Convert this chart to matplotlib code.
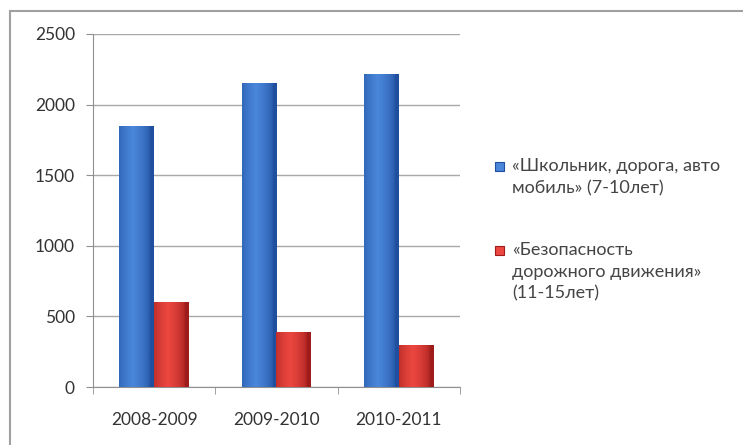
import numpy as np
import matplotlib.pyplot as plt
from matplotlib.patches import Rectangle
from matplotlib.colors import to_rgb

plt.rcParams['font.family'] = ['Lato', 'DejaVu Sans']

# %% data
years = ["2008-2009", "2009-2010", "2010-2011"]
school = [1850, 2150, 2220]
safety = [600, 390, 300]
labels = ["«Школьник, дорога, авто\nмобиль» (7-10лет)",
          "«Безопасность\nдорожного движения»\n(11-15лет)"]

blue_dark, blue_light = "#1f4f9e", "#4a86da"
red_dark, red_light = "#9e1c1a", "#ec4740"

# %% figure
fig = plt.figure(figsize=(7.43, 4.45), dpi=100)
ax = fig.add_axes([0.1252, 0.1303, 0.4938, 0.7933])

x = np.arange(len(years))
w = 0.285
b1 = ax.bar(x - w / 2, school, w, color=blue_light, zorder=3)
b2 = ax.bar(x + w / 2, safety, w, color=red_light, zorder=3)


def shade(bars, dark, light):
    # horizontal gradient, darker at the edges, clipped to each bar
    t = np.linspace(0, 1, 64)
    prof = np.clip(1 - np.abs(t - 0.4) * 2.0, 0, 1) ** 0.5
    c0 = np.array(to_rgb(dark))
    c1 = np.array(to_rgb(light))
    img = (c0[None, :] + (c1 - c0)[None, :] * prof[:, None])[None, :, :]
    for p in bars:
        x0, y0 = p.get_x(), p.get_y()
        im = ax.imshow(img, extent=[x0, x0 + p.get_width(), y0, y0 + p.get_height()],
                       aspect="auto", zorder=4, interpolation="bilinear")
        im.set_clip_path(p)


shade(b1, blue_dark, blue_light)
shade(b2, red_dark, red_light)

ax.set_xlim(-0.5, 2.5)
ax.set_ylim(0, 2500)
ax.set_yticks(np.arange(0, 2501, 500))
ax.set_xticks(x)
ax.set_xticklabels(years)
ax.set_xticks([-0.5, 0.5, 1.5, 2.5], minor=True)
ax.tick_params(axis="x", which="major", length=0, pad=18, labelsize=12.5, labelcolor="#333333")
ax.tick_params(axis="x", which="minor", length=5, color="#909090")
ax.tick_params(axis="y", length=5, color="#909090", pad=8, labelsize=12.5, labelcolor="#333333")
ax.yaxis.grid(True, color="#a8a8a8", lw=1, zorder=0)
for s in ["top", "right"]:
    ax.spines[s].set_visible(False)
ax.spines["left"].set_color("#909090")
ax.spines["bottom"].set_color("#909090")

# legend: squares + text, placed in figure pixels
colors = [(blue_light, blue_dark), (red_light, red_dark)]
tops = [158, 242]
for (fc, ec), lab, top in zip(colors, labels, tops):
    fig.patches.append(Rectangle((495 / 743, 1 - (top + 13) / 445), 9 / 743, 9 / 445,
                                 transform=fig.transFigure, facecolor=fc, edgecolor=ec, lw=0.8))
    fig.text(512 / 743, 1 - top / 445, lab, ha="left", va="top", fontsize=13,
             color="#454545", linespacing=1.45)

# outer frame
fig.patches.append(Rectangle((10 / 743, -0.1), 1.2, 1 - 11 / 445 + 0.1, transform=fig.transFigure,
                             fill=False, edgecolor="#a0a0a0", lw=1.5))

fig.savefig("out.png", dpi=100)
